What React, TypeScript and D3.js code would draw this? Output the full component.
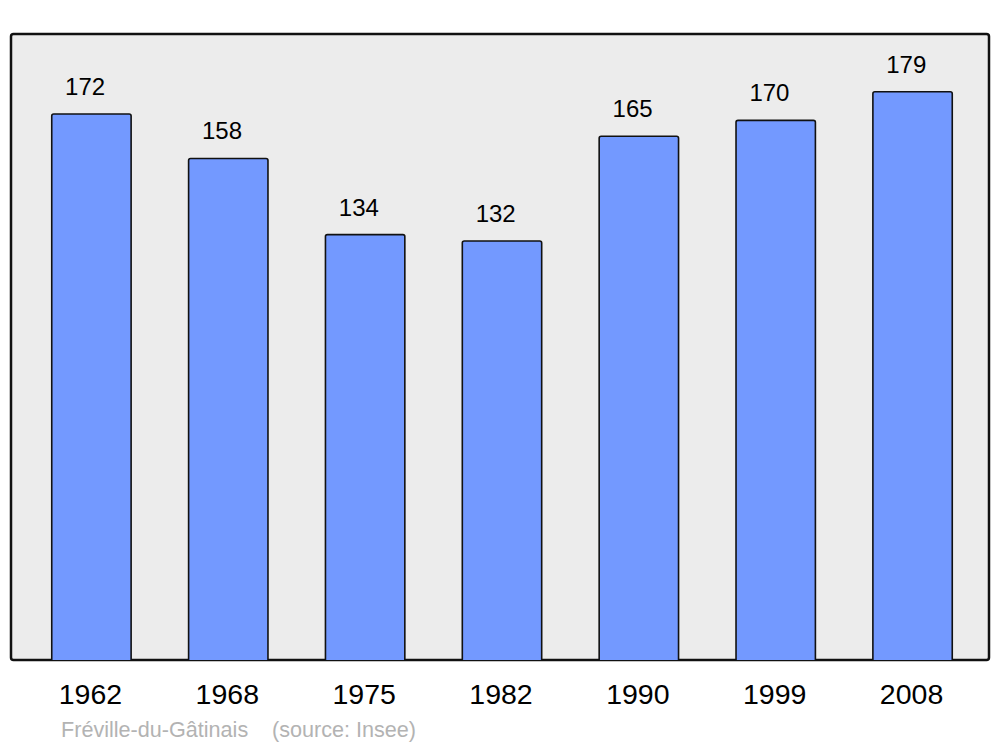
import React from "react";
import * as d3 from "d3";

const years = ["1962", "1968", "1975", "1982", "1990", "1999", "2008"];
const population = [172, 158, 134, 132, 165, 170, 179];
const sourceName = "Fréville-du-Gâtinais";
const sourceNote = "(source: Insee)";

export default function App() {
  const W = 1000;
  const H = 747;
  const panel = { x: 11, y: 34, w: 978, h: 626 };
  const x = d3
    .scaleBand<string>()
    .domain(years)
    .range([23, 981])
    .paddingInner(0.42)
    .paddingOuter(0.21);
  const y = d3.scaleLinear().domain([0, 197.2]).range([660, 34]);
  const font = "'Liberation Sans', Arial, sans-serif";

  return (
    <svg
      width={W}
      height={H}
      style={{ position: "absolute", left: 0, top: 0, background: "#fff" }}
    >
      <rect
        x={panel.x}
        y={panel.y}
        width={panel.w}
        height={panel.h}
        rx={2.5}
        fill="#ececec"
        stroke="#111"
        strokeWidth={2.5}
      />
      {years.map((yr, i) => {
        const bx = x(yr) as number;
        const by = y(population[i]);
        const bw = x.bandwidth();
        return (
          <g key={yr}>
            <path
              d={`M${bx},${y(0)} L${bx},${by + 2} Q${bx},${by} ${bx + 2},${by} L${
                bx + bw - 2
              },${by} Q${bx + bw},${by} ${bx + bw},${by + 2} L${bx + bw},${y(0)}`}
              fill="#7399ff"
              stroke="#111"
              strokeWidth={1.6}
            />
            <text
              x={bx + bw / 2 - 6.3}
              y={by - 19}
              textAnchor="middle"
              fontFamily={font}
              fontSize={24}
              fill="#000"
            >
              {population[i]}
            </text>
            <text
              x={bx + bw / 2 - 1}
              y={704}
              textAnchor="middle"
              fontFamily={font}
              fontSize={28.5}
              fill="#000"
            >
              {yr}
            </text>
          </g>
        );
      })}
      <text x={61} y={737} fontFamily={font} fontSize={21.6} fill="#b3b3b3">
        {sourceName}
      </text>
      <text x={272} y={737} fontFamily={font} fontSize={21.6} fill="#b3b3b3">
        {sourceNote}
      </text>
    </svg>
  );
}
